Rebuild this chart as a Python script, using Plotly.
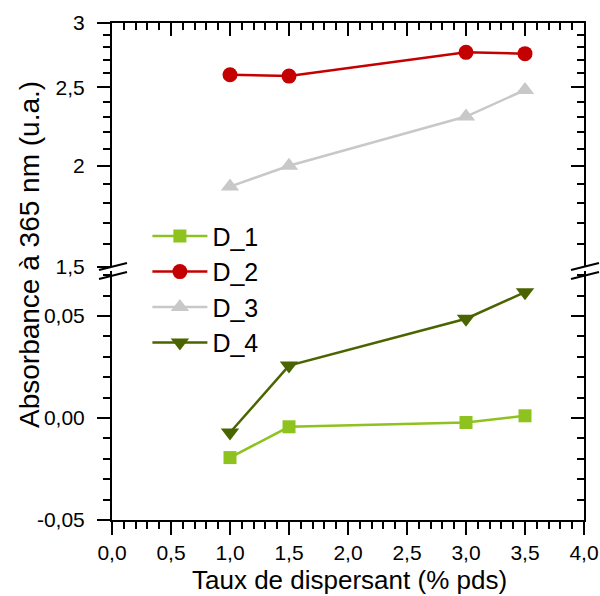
import numpy as np
import plotly.graph_objects as go

# ---- data ----
x_vals = [1.0, 1.5, 3.0, 3.5]
d1 = [-0.0194, -0.0043, -0.0022, 0.0011]
d2 = [2.59, 2.58, 2.76, 2.75]
d3 = [1.885, 2.0, 2.30, 2.48]
d4 = [-0.0071, 0.0257, 0.0487, 0.0617]
names = ["D_1", "D_2", "D_3", "D_4"]

x_tickvals = [0, 0.5, 1.0, 1.5, 2.0, 2.5, 3.0, 3.5, 4.0]
x_ticktext = ["0,0", "0,5", "1,0", "1,5", "2,0", "2,5", "3,0", "3,5", "4,0"]
y_low_tickvals = [-0.05, 0.0, 0.05]
y_low_ticktext = ["-0,05", "0,00", "0,05"]
y_up_tickvals = [1.5, 2, 2.5, 3]
y_up_ticktext = ["1,5", "2", "2,5", "3"]
y_up_minor = [1.6, 1.7, 1.8, 1.9, 2.1, 2.2, 2.3, 2.4, 2.6, 2.7, 2.8, 2.9]

colors = ["#8DC21F", "#C40000", "#C8C8C8", "#4A6400"]

FONT = "Arial, Liberation Sans, sans-serif"
W, H = 600, 596
ML, MR, MT, MB = 112, 16, 23, 76
PW, PH = W - ML - MR, H - MT - MB

def px2paper(px, py):
    return (px - ML) / PW, (H - MB - py) / PH

low_dom = [0, (H - MB - 271) / PH]
up_dom = [(H - MB - 267) / PH, 1]
low_range = [-0.05, 0.0721]
up_range = [np.log10(1.5), np.log10(3)]

fig = go.Figure()
fig.add_trace(go.Scatter(x=x_vals, y=d1, name=names[0], xaxis="x", yaxis="y",
                         mode="lines+markers", line=dict(color=colors[0], width=2.5),
                         marker=dict(symbol="square", size=13, color=colors[0])))
fig.add_trace(go.Scatter(x=x_vals, y=d2, name=names[1], xaxis="x", yaxis="y2",
                         mode="lines+markers", line=dict(color=colors[1], width=2.5),
                         marker=dict(symbol="circle", size=15, color=colors[1])))
fig.add_trace(go.Scatter(x=x_vals, y=d3, name=names[2], xaxis="x", yaxis="y2",
                         mode="lines+markers", line=dict(color=colors[2], width=2.5),
                         marker=dict(symbol="triangle-up", size=16, color=colors[2])))
fig.add_trace(go.Scatter(x=x_vals, y=d4, name=names[3], xaxis="x", yaxis="y",
                         mode="lines+markers", line=dict(color=colors[3], width=2.5),
                         marker=dict(symbol="triangle-down", size=16, color=colors[3])))

# empty helper traces so the mirror (top / right) axes get drawn
for xa, ya in [("x3", "y2"), ("x", "y3"), ("x", "y4")]:
    fig.add_trace(go.Scatter(x=[], y=[], xaxis=xa, yaxis=ya, showlegend=False,
                             hoverinfo="skip", mode="markers"))

tickfont = dict(family=FONT, size=21, color="black")
common = dict(showline=True, linecolor="black", linewidth=2, showgrid=False,
              zeroline=False, tickcolor="black", tickwidth=2, ticklen=13,
              automargin=False)

fig.update_layout(
    width=W, height=H,
    margin=dict(l=ML, r=MR, t=MT, b=MB, autoexpand=False),
    plot_bgcolor="white", paper_bgcolor="white",
    showlegend=True,
    legend=dict(x=0.075, y=0.617, xanchor="left", yanchor="top",
                font=dict(family=FONT, size=25, color="black"),
                bgcolor="rgba(0,0,0,0)", itemwidth=55, tracegroupgap=0),
    xaxis=dict(domain=[0, 1], range=[0, 4], anchor="y", ticks="outside",
               tickvals=x_tickvals, ticktext=x_ticktext, tickfont=tickfont,
               ticklabelstandoff=0,
               minor=dict(dtick=0.1, tick0=0, ticks="outside", ticklen=7,
                          tickwidth=2, tickcolor="black"),
               **common),
    xaxis3=dict(range=[0, 4], overlaying="x", anchor="y2", side="top",
                ticks="inside", tickvals=x_tickvals, showticklabels=False,
                minor=dict(dtick=0.1, tick0=0, ticks="inside", ticklen=7,
                           tickwidth=2, tickcolor="black"),
                **common),
    yaxis=dict(domain=low_dom, range=low_range, anchor="x", ticks="outside",
               tickvals=y_low_tickvals, ticktext=y_low_ticktext, tickfont=tickfont,
               ticklabelstandoff=8,
               minor=dict(dtick=0.01, tick0=0, ticks="outside", ticklen=7,
                          tickwidth=2, tickcolor="black"),
               **common),
    yaxis3=dict(range=low_range, overlaying="y", anchor="x", side="right",
                ticks="inside", tickvals=y_low_tickvals, showticklabels=False,
                minor=dict(dtick=0.01, tick0=0, ticks="inside", ticklen=7,
                           tickwidth=2, tickcolor="black"),
                **common),
    yaxis2=dict(domain=up_dom, type="log", range=up_range, anchor="x",
                ticks="outside", tickvals=y_up_tickvals, ticktext=y_up_ticktext,
                tickfont=tickfont, ticklabelstandoff=8,
                minor=dict(tickvals=y_up_minor, ticks="outside", ticklen=7,
                           tickwidth=2, tickcolor="black"),
                **common),
    yaxis4=dict(type="log", range=up_range, overlaying="y2", anchor="x",
                side="right", ticks="inside", tickvals=y_up_tickvals,
                showticklabels=False,
                minor=dict(tickvals=y_up_minor, ticks="inside", ticklen=7,
                           tickwidth=2, tickcolor="black"),
                **common),
)

# axis titles
ax, ay = px2paper(30, 255)
fig.add_annotation(text="Absorbance à 365 nm (u.a.)", xref="paper", yref="paper",
                   x=ax, y=ay, xanchor="center", yanchor="middle", textangle=-90,
                   showarrow=False, font=dict(family=FONT, size=28, color="black"))
bx, by = px2paper(349, 580)
fig.add_annotation(text="Taux de dispersant (% pds)", xref="paper", yref="paper",
                   x=bx, y=by, xanchor="center", yanchor="middle",
                   showarrow=False, font=dict(family=FONT, size=26, color="black"))

# axis break marks
for x0, x1 in [(99, 127), (571, 599)]:
    for dy in [0, 9]:
        p0 = px2paper(x0, 270 + dy)
        p1 = px2paper(x1, 263 + dy)
        fig.add_shape(type="line", xref="paper", yref="paper",
                      x0=p0[0], y0=p0[1], x1=p1[0], y1=p1[1],
                      line=dict(color="black", width=2))

fig.write_html("out.html", config={"displayModeBar": False},
               post_script="document.body.style.margin='0';")
